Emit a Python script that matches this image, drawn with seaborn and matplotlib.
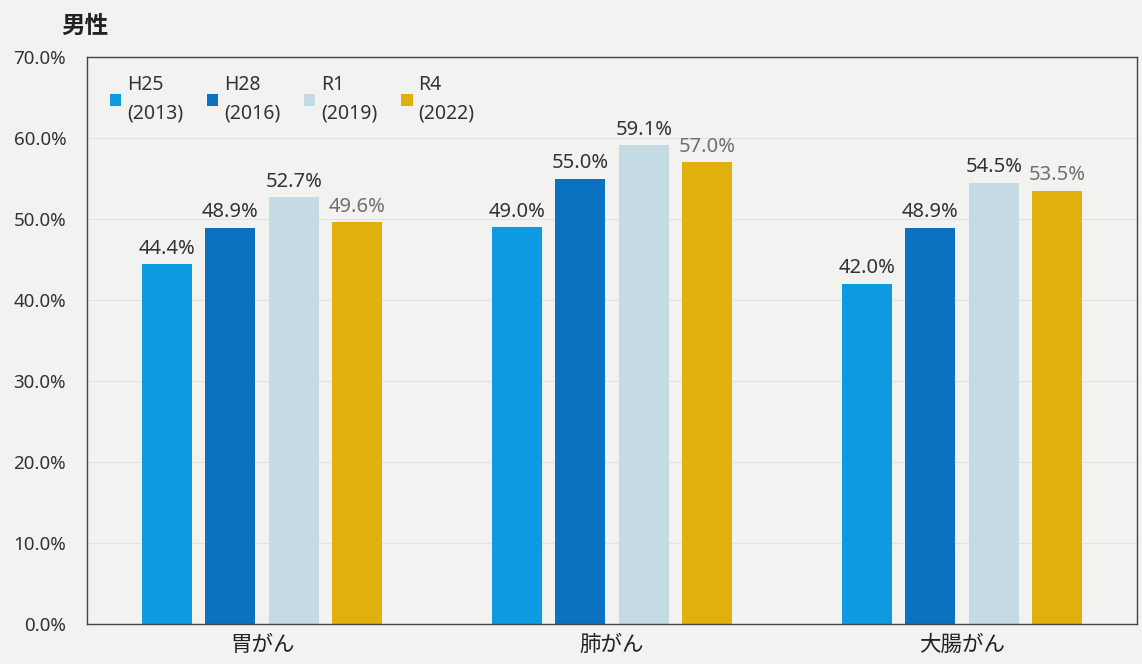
import pandas as pd
import matplotlib
matplotlib.use('Agg')
import matplotlib.pyplot as plt
import seaborn as sns

# データ
sites = ['胃がん', '肺がん', '大腸がん']
years = ['H25\n(2013)', 'H28\n(2016)', 'R1\n(2019)', 'R4\n(2022)']
h25 = [44.4, 49.0, 42.0]
h28 = [48.9, 55.0, 48.9]
r1 = [52.7, 59.1, 54.5]
r4 = [49.6, 57.0, 53.5]
colors = ['#0d9ae0', '#0b72c2', '#c5dbe4', '#e2b00c']
yticks = [0, 10, 20, 30, 40, 50, 60, 70]

rows = []
for yr, vals in zip(years, [h25, h28, r1, r4]):
    for s, v in zip(sites, vals):
        rows.append({'site': s, 'year': yr, 'rate': v})
df = pd.DataFrame(rows)

sns.set_style('white')
plt.rcParams['font.family'] = ['Noto Sans', 'Noto Sans CJK JP', 'DejaVu Sans']

bg = '#f2f2f0'
fig = plt.figure(figsize=(11.42, 6.64), dpi=100, facecolor=bg)
ax = fig.add_axes([0.0762, 0.0602, 0.9194, 0.8538])
ax.set_facecolor(bg)

sns.barplot(data=df, x='site', y='rate', hue='year', palette=colors,
            width=0.726, gap=0.21, saturation=1, linewidth=0,
            ax=ax, legend=True)

# 値ラベル
for i, cont in enumerate(ax.containers):
    c = '#707070' if i == 3 else '#333333'
    ax.bar_label(cont, labels=[f'{v:.1f}%' for v in cont.datavalues],
                 padding=4, fontsize=14.5, color=c)

ax.set_xlim(-0.5, 2.5)
ax.set_ylim(0, 70)
ax.set_yticks(yticks)
ax.set_yticklabels([f'{t:.1f}%' for t in yticks], fontsize=13.5, color='#333333')
ax.tick_params(axis='x', labelsize=15.5, colors='#222222', length=0, pad=8)
ax.tick_params(axis='y', length=0, pad=15)
ax.set_xlabel('')
ax.set_ylabel('')
ax.yaxis.grid(True, color='#e2e2e0', linewidth=0.8)
ax.set_axisbelow(True)
for sp in ax.spines.values():
    sp.set_visible(True)
    sp.set_color('#444444')
    sp.set_linewidth(1)

leg = ax.legend(loc='upper left', ncol=4, frameon=False, fontsize=14,
                handlelength=0.6, handleheight=0.6, handletextpad=0.3,
                columnspacing=1.2, bbox_to_anchor=(0.005, 1.0))
for t in leg.get_texts():
    t.set_color('#333333')
    t.set_linespacing(1.6)

fig.text(0.054, 0.95, '男性', fontsize=17, fontweight='bold', color='#222222',
         family=['Noto Sans CJK JP'])

fig.savefig('out.png', dpi=100, facecolor=bg)
